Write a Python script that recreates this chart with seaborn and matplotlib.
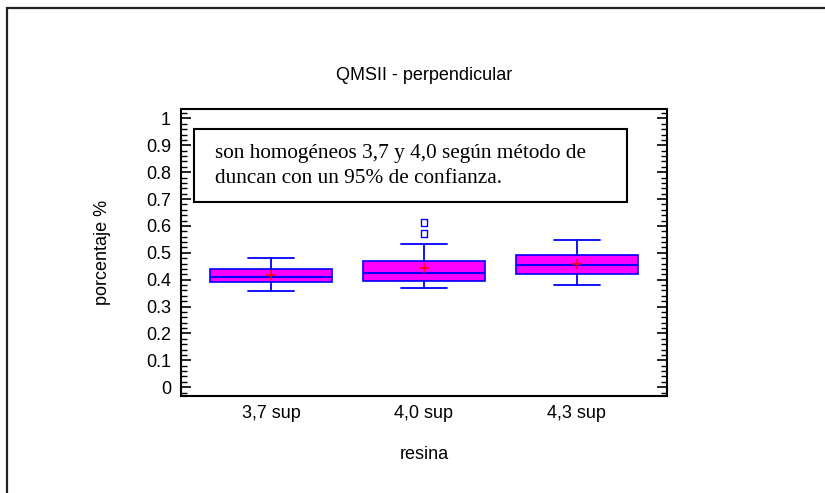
import matplotlib
matplotlib.use("Agg")
import matplotlib.pyplot as plt
import matplotlib.patches as mpatches
from matplotlib.ticker import MultipleLocator
import seaborn as sns
import pandas as pd

# --- data ---
groups = ["3,7 sup", "4,0 sup", "4,3 sup"]
q1 = [0.390, 0.397, 0.421]
medians = [0.409, 0.425, 0.454]
q3 = [0.440, 0.468, 0.492]
whisk_lo = [0.359, 0.370, 0.382]
whisk_hi = [0.480, 0.532, 0.549]
means = [0.419, 0.442, 0.458]
outliers = {"4,0 sup": [0.571, 0.612]}
y_ticks = [0, 0.1, 0.2, 0.3, 0.4, 0.5, 0.6, 0.7, 0.8, 0.9, 1]
y_ticklabels = ["0", "0.1", "0.2", "0.3", "0.4", "0.5", "0.6", "0.7", "0.8", "0.9", "1"]

sns.set_style("ticks")
plt.rcParams["font.family"] = ["Liberation Sans", "DejaVu Sans"]
plt.rcParams.update({"text.color": "black", "axes.labelcolor": "black",
                     "xtick.color": "black", "ytick.color": "black"})

fig = plt.figure(figsize=(8.25, 4.93), dpi=100)
ax = fig.add_axes([0.219, 0.1976, 0.5895, 0.5813])

# outer frame of the figure
fig.patches.append(mpatches.Rectangle((7 / 825, -0.1), 1.2, 1 - 8 / 493 + 0.1,
                                      transform=fig.transFigure, fill=False,
                                      edgecolor="#222222", linewidth=1.6))

pos = list(range(len(groups)))
stats = []
for i, g in enumerate(groups):
    stats.append(dict(label=g, q1=q1[i], med=medians[i], q3=q3[i],
                      whislo=whisk_lo[i], whishi=whisk_hi[i], fliers=[]))

blue = "#0000FF"
ax.bxp(stats, positions=pos, widths=0.8, capwidths=0.3, patch_artist=True,
       showfliers=False,
       boxprops=dict(facecolor="#FF00FF", edgecolor=blue, linewidth=1.2),
       medianprops=dict(color=blue, linewidth=1.5),
       whiskerprops=dict(color=blue, linewidth=1.3),
       capprops=dict(color=blue, linewidth=1.3))

mean_df = pd.DataFrame({"pos": pos, "mean": means})
sns.scatterplot(data=mean_df, x="pos", y="mean", marker="+", color="red",
                s=50, linewidth=1.1, ax=ax, zorder=5)

out_rows = [(groups.index(g), v) for g, vals in outliers.items() for v in vals]
out_df = pd.DataFrame(out_rows, columns=["pos", "val"])
sns.scatterplot(data=out_df, x="pos", y="val", marker="s", facecolor="none",
                edgecolor=blue, s=22, linewidth=1.0, ax=ax, zorder=5)

ax.set_xlim(-0.59, 2.59)
ax.set_ylim(-0.031, 1.035)
ax.set_xticks(pos)
ax.set_xticklabels(groups)
ax.set_yticks(y_ticks)
ax.set_yticklabels(y_ticklabels)
ax.yaxis.set_minor_locator(MultipleLocator(0.02))
ax.tick_params(axis="y", which="major", direction="in", length=7, width=1.2,
               left=True, right=True, labelsize=13, pad=7)
ax.tick_params(axis="y", which="minor", direction="in", length=4, width=1.0,
               left=True, right=True)
ax.tick_params(axis="x", length=0, labelsize=13, pad=7)
for s in ax.spines.values():
    s.set_linewidth(1.5)
    s.set_color("black")

ax.set_title("QMSII - perpendicular", fontsize=13, pad=21)
ax.set_xlabel("resina", fontsize=13, labelpad=17)
ax.set_ylabel("porcentaje %", fontsize=13, labelpad=25)

# annotation box
ax.add_patch(mpatches.Rectangle((0.027, 0.675), 0.891, 0.255, transform=ax.transAxes,
                                fill=False, edgecolor="black", linewidth=1.5, zorder=6))
ax.text(0.0706, 0.80, "son homogéneos 3,7 y 4,0 según método de\nduncan con un 95% de confianza.",
        transform=ax.transAxes, family=["Liberation Serif", "DejaVu Serif"],
        fontsize=15.3, va="center", ha="left", linespacing=1.45, zorder=7)

fig.savefig("out.png", dpi=100)
